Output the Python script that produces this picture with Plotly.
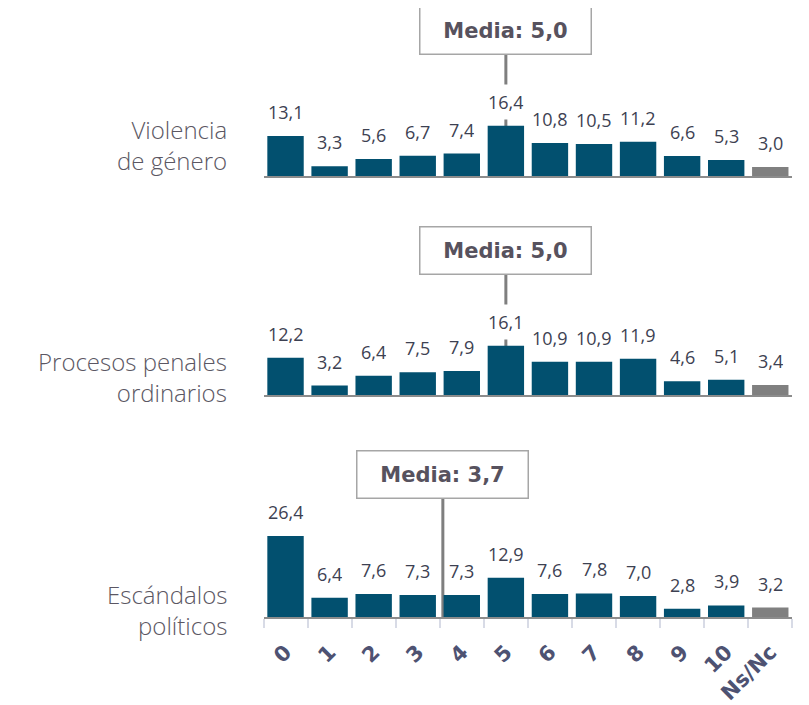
import plotly.graph_objects as go

# ---------------- data ----------------
categories = ['0', '1', '2', '3', '4', '5', '6', '7', '8', '9', '10', 'Ns/Nc']
violencia_genero = [13.1, 3.3, 5.6, 6.7, 7.4, 16.4, 10.8, 10.5, 11.2, 6.6, 5.3, 3.0]
procesos_penales = [12.2, 3.2, 6.4, 7.5, 7.9, 16.1, 10.9, 10.9, 11.9, 4.6, 5.1, 3.4]
escandalos_politicos = [26.4, 6.4, 7.6, 7.3, 7.3, 12.9, 7.6, 7.8, 7.0, 2.8, 3.9, 3.2]
means = [5.0, 5.0, 3.7]
panel_titles = ['Violencia<br>de género', 'Procesos penales<br>ordinarios', 'Escándalos<br>políticos']

series = [violencia_genero, procesos_penales, escandalos_politicos]

# ---------------- layout constants (pixels, page coords) ----------------
OFF = 8                      # default page body margin
W, H = 809 - OFF, 705 - OFF
PX_PER_UNIT = 3.1
baselines = [177.3, 397.7, 621.0]
y_ranges = [30, 30, 35]
box_centers = [30.5, 251.5, 477.0]
box_bottoms = [55.0, 275.0, 501.0]
title_centers = [146.0, 379.0, 613.0]
x_left, x_right = 263.5, 792.3

def px(xp):
    return (xp - OFF) / W

def py(yp):
    return (H - (yp - OFF)) / H

x_dom = [px(x_left), px(x_right)]
# 0-10 score scale: 0 at the left edge of slot "0", 10 at the right edge of slot "10"
n_score_slots = 11
score_range = [0, 10 * len(categories) / n_score_slots]

BAR_COLOR = '#02506f'
NSNC_COLOR = '#808080'
LABEL_COLOR = '#3d4152'

def fmt(v):
    return f"{v:.1f}".replace('.', ',')

fig = go.Figure()
layout = dict(
    width=W, height=H,
    margin=dict(l=0, r=0, t=0, b=0),
    paper_bgcolor='white', plot_bgcolor='rgba(0,0,0,0)',
    showlegend=False, bargap=0.174,
    annotations=[], shapes=[],
)

for i, vals in enumerate(series):
    n = '' if i == 0 else str(i + 1)
    xa, ya = 'x' + n, 'y' + n
    sx = 'x' + str(i + 4)  # score axis for this panel
    colors = [NSNC_COLOR if c == 'Ns/Nc' else BAR_COLOR for c in categories]
    fig.add_trace(go.Bar(x=categories, y=vals, xaxis=xa, yaxis=ya,
                         marker=dict(color=colors, line=dict(width=0)),
                         hoverinfo='skip'))
    b = baselines[i]
    top = b - y_ranges[i] * PX_PER_UNIT
    y_dom = [py(b), py(top)]
    is_bottom = (i == 2)
    layout['xaxis' + n] = dict(
        domain=x_dom, anchor=ya, type='category',
        categoryorder='array', categoryarray=categories,
        range=[-0.5, len(categories) - 0.5],
        showgrid=False, zeroline=False,
        showline=True, linecolor='#8c8c8c', linewidth=2,
        ticks='outside' if is_bottom else '', tickson='boundaries',
        ticklen=9, tickwidth=2, tickcolor='#d8dbe6',
        showticklabels=is_bottom, tickangle=-45, ticklabelstandoff=12,
        tickfont=dict(family='DejaVu Sans', size=21, color='#4e5272', weight='bold'),
    )
    layout['xaxis' + str(i + 4)] = dict(
        anchor=ya, overlaying=xa, type='linear', range=score_range,
        visible=False, showgrid=False, zeroline=False, fixedrange=True)
    layout['yaxis' + n] = dict(domain=y_dom, anchor=xa, range=[0, y_ranges[i]],
                               visible=False, fixedrange=True)

    # value labels
    for c, v in zip(categories, vals):
        layout['annotations'].append(dict(
            x=c, y=v, xref=xa, yref=ya, text=fmt(v), showarrow=False,
            yanchor='middle', yshift=24, height=34, bgcolor='white', borderpad=0,
            font=dict(family='Open Sans', size=18, color=LABEL_COLOR)))

    # mean line
    layout['shapes'].append(dict(
        type='line', xref=sx, yref='paper', layer='below',
        x0=means[i], x1=means[i],
        y0=py(box_bottoms[i]), y1=py(b),
        line=dict(color='#7f7f7f', width=3)))

    # mean box
    layout['annotations'].append(dict(
        x=means[i], y=py(box_centers[i]), xref=sx, yref='paper',
        text='<b>Media: ' + fmt(means[i]) + '</b>', showarrow=False,
        xanchor='center', yanchor='middle', width=168, height=44,
        bgcolor='white', bordercolor='#a6a6a6', borderwidth=1.5, borderpad=1,
        font=dict(family='DejaVu Sans', size=21, color='#57525e')))

    # panel title
    layout['annotations'].append(dict(
        x=px(229), y=py(title_centers[i]), xref='paper', yref='paper',
        text=panel_titles[i], showarrow=False, xanchor='right', yanchor='middle',
        align='right',
        font=dict(family='Open Sans', size=24, color='#5b5763', weight=300)))

fig.update_layout(**layout)
fig.write_html("out.html")
